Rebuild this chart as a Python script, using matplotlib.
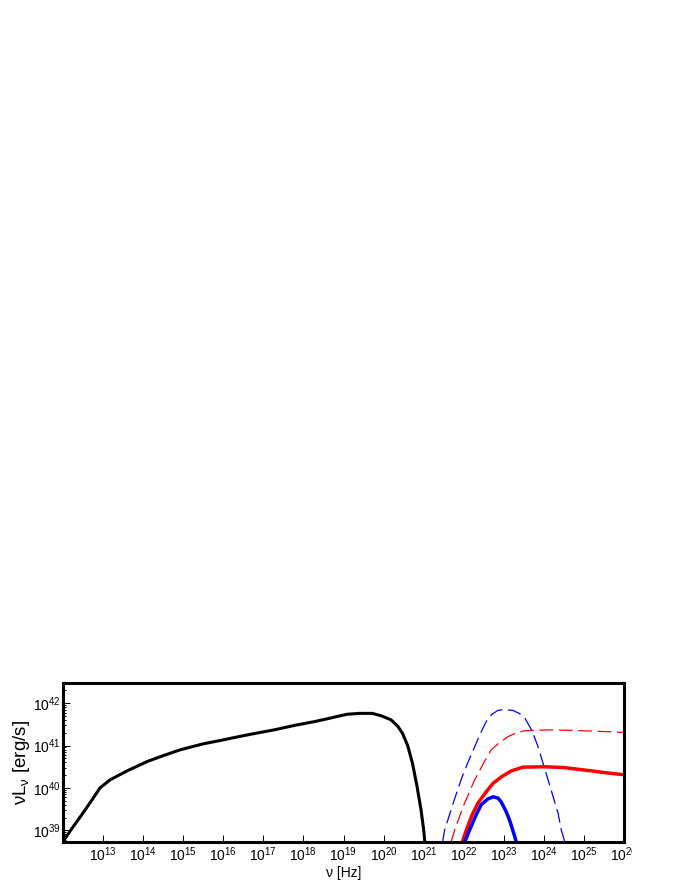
import numpy as np
import matplotlib
matplotlib.use("Agg")
from matplotlib import pyplot as plt
from matplotlib.transforms import Bbox, TransformedBbox

plt.rcParams['font.family'] = ['Liberation Sans', 'DejaVu Sans']
plt.rcParams['mathtext.fontset'] = 'custom'
plt.rcParams['mathtext.rm'] = 'Liberation Sans'
plt.rcParams['mathtext.it'] = 'Liberation Sans'
plt.rcParams['mathtext.bf'] = 'Liberation Sans:bold'

"""Spectra, read off the picture as log10(nu / Hz), log10(nu L_nu / erg s^-1)"""
black_lognu = [12.0, 12.22, 12.5, 12.725, 12.93, 13.18, 13.6, 14.1, 14.5, 14.93,
               15.5, 15.93, 16.18, 16.7, 17.27, 17.8, 18.3, 18.68, 18.9, 19.1,
               19.4, 19.72, 19.95, 20.18, 20.35, 20.47, 20.6, 20.72, 20.83, 20.93,
               21.0, 21.03]
black_logL = [38.72, 39.03, 39.4, 39.71, 40.0, 40.19, 40.4, 40.62, 40.76, 40.90,
              41.04, 41.12, 41.17, 41.27, 41.37, 41.48, 41.57, 41.65, 41.70, 41.74,
              41.76, 41.76, 41.70, 41.61, 41.46, 41.29, 41.0, 40.58, 40.05, 39.5,
              39.0, 38.7]

blue_dash_lognu = [21.47, 21.52, 21.72, 21.93, 22.1, 22.27, 22.42, 22.56, 22.7, 22.85,
                   23.0, 23.22, 23.38, 23.52, 23.7, 23.85, 24.1, 24.35, 24.43, 24.52]
blue_dash_logL = [38.72, 39.0, 39.6, 40.19, 40.6, 40.97, 41.3, 41.57, 41.74, 41.83,
                  41.85, 41.83, 41.76, 41.65, 41.35, 40.97, 40.19, 39.40, 39.0, 38.72]

red_dash_lognu = [21.68, 21.77, 22.0, 22.27, 22.5, 22.68, 22.9, 23.1, 23.3, 23.52,
                  24.1, 24.6, 24.93, 25.5, 26.0]
red_dash_logL = [38.72, 39.0, 39.6, 40.19, 40.6, 40.90, 41.08, 41.21, 41.30, 41.35,
                 41.37, 41.36, 41.35, 41.33, 41.31]

red_lognu = [21.96, 22.06, 22.2, 22.35, 22.55, 22.73, 22.95, 23.18, 23.47, 24.02,
             24.5, 24.85, 25.2, 25.52, 26.0]
red_logL = [38.72, 39.0, 39.35, 39.64, 39.90, 40.11, 40.27, 40.40, 40.49, 40.50,
            40.48, 40.44, 40.40, 40.36, 40.31]

blue_lognu = [22.02, 22.14, 22.3, 22.43, 22.6, 22.73, 22.85, 22.93, 23.05, 23.14,
              23.22, 23.31]
blue_logL = [38.72, 39.0, 39.35, 39.6, 39.74, 39.79, 39.76, 39.67, 39.45, 39.24,
             39.0, 38.72]

x_ticks = [1e13, 1e14, 1e15, 1e16, 1e17, 1e18, 1e19, 1e20, 1e21, 1e22, 1e23, 1e24, 1e25, 1e26]
y_ticks = [1e39, 1e40, 1e41, 1e42]


def lin(v):
    return 10 ** np.array(v)


"""Figure"""
fig = plt.figure(figsize=(6.81, 8.81), dpi=100)
ax = fig.add_axes([62.7 / 681, 39.3 / 881, 561.6 / 681, 158.4 / 881])

ax.plot(lin(black_lognu), lin(black_logL), color='black', lw=2.2)
ax.plot(lin(blue_dash_lognu), lin(blue_dash_logL), color='blue', lw=0.9, dashes=(11, 4.5))
ax.plot(lin(red_dash_lognu), lin(red_dash_logL), color='red', lw=0.9, dashes=(11, 4.5))
ax.plot(lin(red_lognu), lin(red_logL), color='red', lw=2.5)
ax.plot(lin(blue_lognu), lin(blue_logL), color='blue', lw=2.5)

ax.set_xscale('log')
ax.set_yscale('log')
ax.set_xlim(1e12, 1e26)
ax.set_ylim(10 ** 38.73, 10 ** 42.47)
ax.set_xticks(x_ticks)
ax.set_yticks(y_ticks)

for s in ax.spines.values():
    s.set_linewidth(2.2)
ax.tick_params(which='both', direction='in', top=False, right=False, width=0.7, labelsize=10)
ax.tick_params(which='major', length=5)
ax.tick_params(which='minor', length=2.5)
ax.tick_params(axis='x', pad=3)
ax.tick_params(axis='y', pad=1)

ax.set_xlabel(r'ν [Hz]', fontsize=10, labelpad=1)
ax.set_ylabel(r'νL$_{ν}$ [erg/s]', fontsize=13.5, labelpad=1)

# the last x tick label is cut off at the edge of the original drawing
fig.canvas.draw()
clip = TransformedBbox(Bbox([[0, 0], [631.7 / 681, 1]]), fig.transFigure)
for lab in ax.get_xticklabels():
    lab.set_clip_box(clip)
    lab.set_clip_on(True)

fig.savefig('out.png', dpi=100)
